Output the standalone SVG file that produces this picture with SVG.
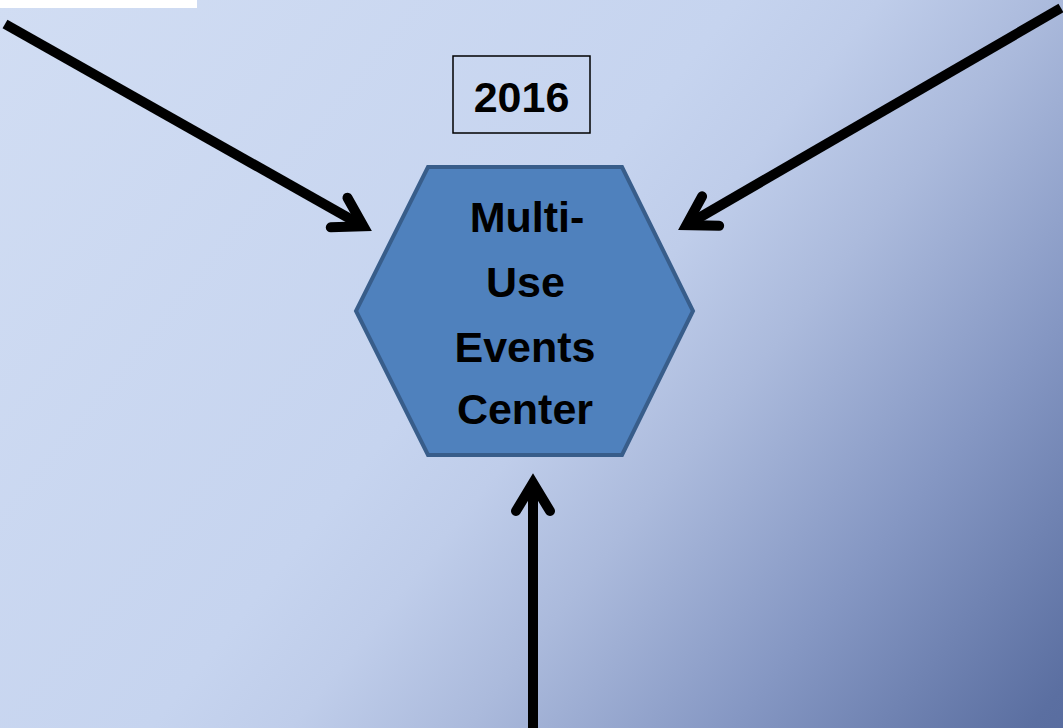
<svg xmlns="http://www.w3.org/2000/svg" width="1063" height="728" viewBox="0 0 1063 728">
  <defs>
    <linearGradient id="bg" gradientUnits="userSpaceOnUse" x1="0" y1="0" x2="1063" y2="860">
      <stop offset="0" stop-color="#d1ddf3"/>
      <stop offset="0.42" stop-color="#c6d4ef"/>
      <stop offset="0.5" stop-color="#bfcdea"/>
      <stop offset="0.6" stop-color="#abbadc"/>
      <stop offset="0.75" stop-color="#8597c3"/>
      <stop offset="0.92" stop-color="#5b6fa1"/>
      <stop offset="1" stop-color="#53679b"/>
    </linearGradient>
    <marker id="head" markerUnits="userSpaceOnUse" orient="auto" refX="0" refY="0" markerWidth="80" markerHeight="80" viewBox="-40 -40 80 80" overflow="visible">
      <path d="M-28,-17 L0,0 L-28,17" fill="none" stroke="#000" stroke-width="10" stroke-linejoin="miter" stroke-miterlimit="10" stroke-linecap="round"/>
    </marker>
  </defs>
  <style>
    .lbl { font-family: "Liberation Sans", Arial, sans-serif; font-weight: bold; fill: #000; text-anchor: middle; }
    .hex { font-size: 43px; }
    .conn { fill: none; stroke: #000; stroke-width: 10; marker-end: url(#head); }
  </style>
  <rect x="0" y="0" width="1063" height="728" fill="url(#bg)"/>
  <rect x="0" y="0" width="197" height="8" fill="#ffffff"/>

  <g id="connectors">
    <line class="conn" x1="5" y1="24" x2="363.5" y2="226.3"/>
    <line class="conn" x1="1061" y1="8" x2="686.4" y2="225.1"/>
    <line class="conn" x1="533" y1="728" x2="533" y2="483"/>
  </g>

  <g id="year">
    <rect x="453" y="56" width="137" height="77" fill="none" stroke="#000" stroke-width="1.5"/>
    <text class="lbl" x="521.5" y="112" font-size="43">2016</text>
  </g>

  <g id="center">
    <polygon points="428,167 622,167 693,311 622,455 428,455 356,311" fill="#4f81bd" stroke="#385d8a" stroke-width="4"/>
    <text class="lbl hex" x="527" y="232">Multi-</text>
    <text class="lbl hex" x="525.5" y="297">Use</text>
    <text class="lbl hex" x="525" y="362">Events</text>
    <text class="lbl hex" x="525" y="424">Center</text>
  </g>
</svg>
